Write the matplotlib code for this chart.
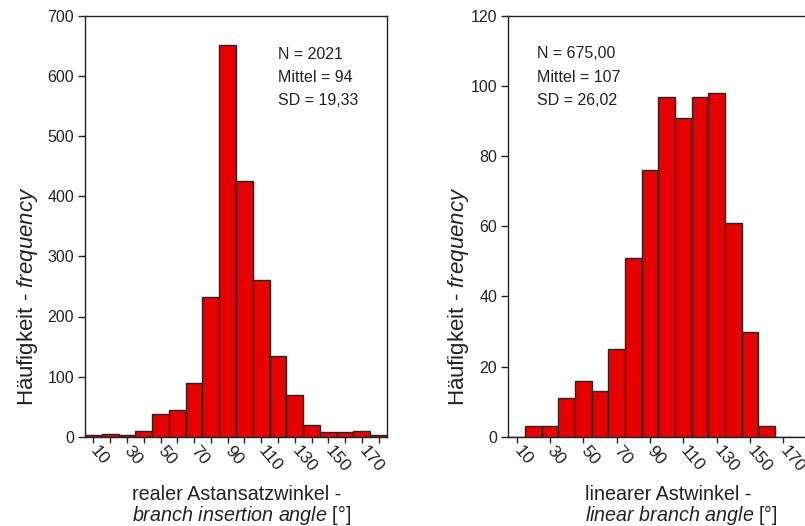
import matplotlib.pyplot as plt

plt.rcParams['font.family'] = ['Liberation Sans', 'DejaVu Sans']
plt.rcParams['mathtext.fontset'] = 'custom'
plt.rcParams['mathtext.rm'] = 'Liberation Sans'
plt.rcParams['mathtext.it'] = 'Liberation Sans:italic'

# bin centres (10 degree classes)
bins = [10, 20, 30, 40, 50, 60, 70, 80, 90, 100, 110, 120, 130, 140, 150, 160, 170, 180]
counts_left = [3, 4, 3, 10, 38, 44, 90, 233, 651, 425, 260, 135, 69, 19, 7, 7, 9, 2]
counts_right = [0, 3, 3, 11, 16, 13, 25, 51, 76, 97, 91, 97, 98, 61, 30, 3, 0, 0]

tick_labels = [10, 30, 50, 70, 90, 110, 130, 150, 170]
yticks_left = [0, 100, 200, 300, 400, 500, 600, 700]
yticks_right = [0, 20, 40, 60, 80, 100, 120]

stats_left = ['N = 2021', 'Mittel = 94', 'SD = 19,33']
stats_right = ['N = 675,00', 'Mittel = 107', 'SD = 26,02']

W, H = 805, 526
fig = plt.figure(figsize=(W / 100, H / 100), dpi=100)


def px(x, y):
    return x / W, 1 - y / H


bar_color = '#e60000'
edge_color = '#262626'
text_color = '#222222'

ax1 = fig.add_axes([85 / W, 1 - 436.7 / H, 302 / W, 420.7 / H])
ax2 = fig.add_axes([508.3 / W, 1 - 436.7 / H, 300 / W, 420.7 / H])

for ax, counts, yticks in [(ax1, counts_left, yticks_left), (ax2, counts_right, yticks_right)]:
    ax.bar(bins, counts, width=10, color=bar_color, edgecolor=edge_color, linewidth=1)
    ax.set_xlim(5, 185)
    ax.set_ylim(0, yticks[-1])
    ax.set_yticks(yticks)
    ax.tick_params(axis='y', length=5, width=1, labelsize=11.5, pad=3, colors=text_color)
    ax.tick_params(axis='x', length=4, width=1, labelsize=12.5, pad=4, colors=text_color)
    for s in ax.spines.values():
        s.set_linewidth(1)
        s.set_color(text_color)

# left: ticks on every bin, labels every other one
ax1.set_xticks(bins)
ax1.set_xticklabels([str(b) if b in tick_labels else '' for b in bins])
ax2.set_xticks(tick_labels)
ax2.set_xticklabels([str(b) for b in tick_labels])

for ax in (ax1, ax2):
    for lab in ax.get_xticklabels():
        lab.set_rotation(-50)
        lab.set_ha('left')
        lab.set_va('center')
        lab.set_rotation_mode('anchor')

# statistics text
for i, s in enumerate(stats_left):
    fig.text(*px(278, 59 + 23 * i), s, fontsize=11.5, color=text_color, va='baseline')
for i, s in enumerate(stats_right):
    fig.text(*px(537, 58 + 23.5 * i), s, fontsize=11.5, color=text_color, va='baseline')

# axis labels
ylab = 'Häufigkeit - $\\it{frequency}$'
fig.text(*px(28, 296), ylab, fontsize=16, rotation=90, ha='center', va='center', color=text_color)
fig.text(*px(458, 296), ylab, fontsize=16, rotation=90, ha='center', va='center', color=text_color)

fig.text(*px(132, 500), 'realer Astansatzwinkel -', fontsize=14.2, color=text_color, va='baseline')
fig.text(*px(132, 521), '$\\it{branch\\ insertion\\ angle}$ [°]', fontsize=14.2, color=text_color, va='baseline')
fig.text(*px(585, 500), 'linearer Astwinkel -', fontsize=14.2, color=text_color, va='baseline')
fig.text(*px(585, 521), '$\\it{linear\\ branch\\ angle}$ [°]', fontsize=14.2, color=text_color, va='baseline')

fig.savefig('out.png', dpi=100)
